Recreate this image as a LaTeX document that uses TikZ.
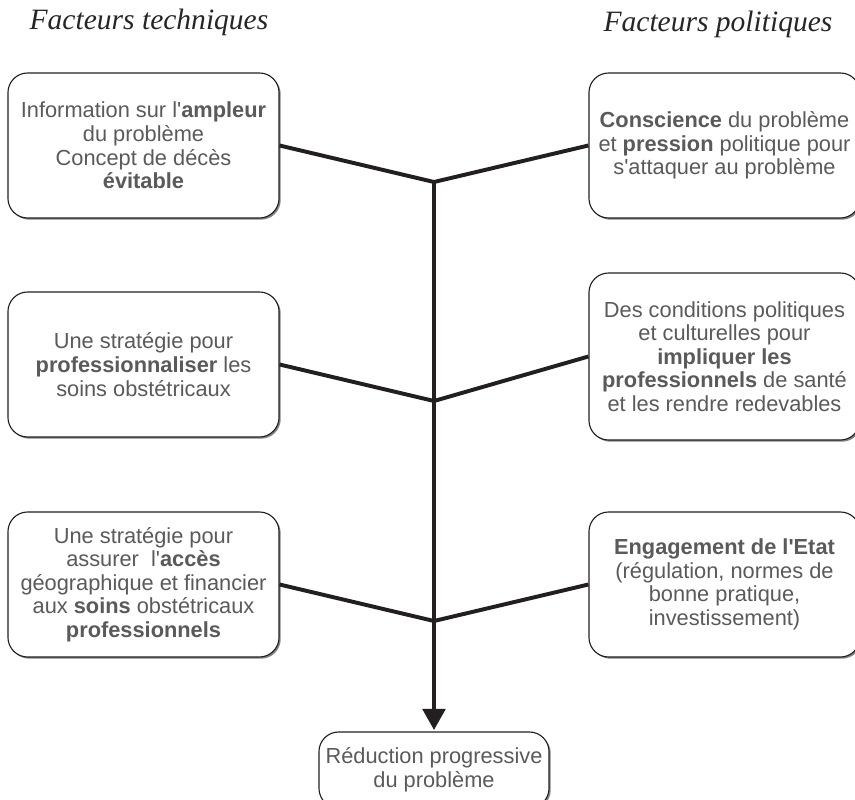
\documentclass[tikz,border=0pt]{standalone}
\usepackage{fontspec}
\setmainfont{Liberation Sans}
\newfontfamily\titlefont{Liberation Serif}
\usetikzlibrary{arrows.meta,shadows}
\definecolor{txtgray}{HTML}{5A5A5A}
\definecolor{linedark}{HTML}{231F20}
\newcommand{\apos}{\textquotesingle}

\begin{document}
\begin{tikzpicture}[x=0.025cm, y=-0.025cm,
    factor/.style={draw=linedark, line width=0.8pt, rounded corners=14pt, fill=white,
      drop shadow={shadow xshift=1.2pt, shadow yshift=-1.2pt, fill=black!60, opacity=0.8},
      align=center, text=txtgray, font=\fontsize{15.5}{16.8}\selectfont,
      minimum width=6.775cm, minimum height=3.625cm, inner sep=2pt},
    heading/.style={font=\titlefont\itshape\fontsize{21}{24}\selectfont, text=black!85},
    link/.style={draw=linedark, line width=2.8pt}]
    % page frame 855 x 800 px
    \useasboundingbox (0,0) rectangle (855,800);

    \node[heading] (ttech) at (149,22) {Facteurs techniques};
    \node[heading] (tpol) at (718,24) {Facteurs politiques};

    % technical factors (left) and political factors (right)
    \node[factor] (tech1) at (143.5,145.5)
      {Information sur l\apos\textbf{ampleur}\\du problème\\Concept de décès\\\textbf{évitable}};
    \node[factor] (pol1) at (724.5,145.5)
      {\textbf{Conscience} du problème\\et \textbf{pression} politique pour\\s\apos attaquer au problème};
    \node[factor] (tech2) at (143.5,364.5)
      {Une stratégie pour\\\textbf{professionnaliser} les\\soins obstétricaux};
    \node[factor, minimum height=4.175cm] (pol2) at (724.5,356.5)
      {Des conditions politiques\\et culturelles pour\\\textbf{impliquer les}\\\textbf{professionnels} de santé\\et les rendre redevables};
    \node[factor] (tech3) at (143.5,584.5)
      {Une stratégie pour\\assurer\ \ l\apos\textbf{accès}\\géographique et financier\\aux \textbf{soins} obstétricaux\\\textbf{professionnels}};
    \node[factor] (pol3) at (724.5,584.5)
      {\textbf{Engagement de l\apos Etat}\\(régulation, normes de\\bonne pratique,\\investissement)};

    \node[factor, minimum width=5.75cm, minimum height=1.9cm] (result) at (434,770)
      {Réduction progressive\\du problème};

    \coordinate (j1) at (434,182);
    \coordinate (j2) at (434,401);
    \coordinate (j3) at (434,621);

    \draw[link] (tech1.east) -- (j1) -- (pol1.west);
    \draw[link] (tech2.east) -- (j2) -- (pol2.west);
    \draw[link] (tech3.east) -- (j3) -- (pol3.west);
    \draw[link, -{Triangle[length=15pt, width=16pt]}, shorten >=1pt] (j1) -- (result.north);
\end{tikzpicture}
\end{document}
